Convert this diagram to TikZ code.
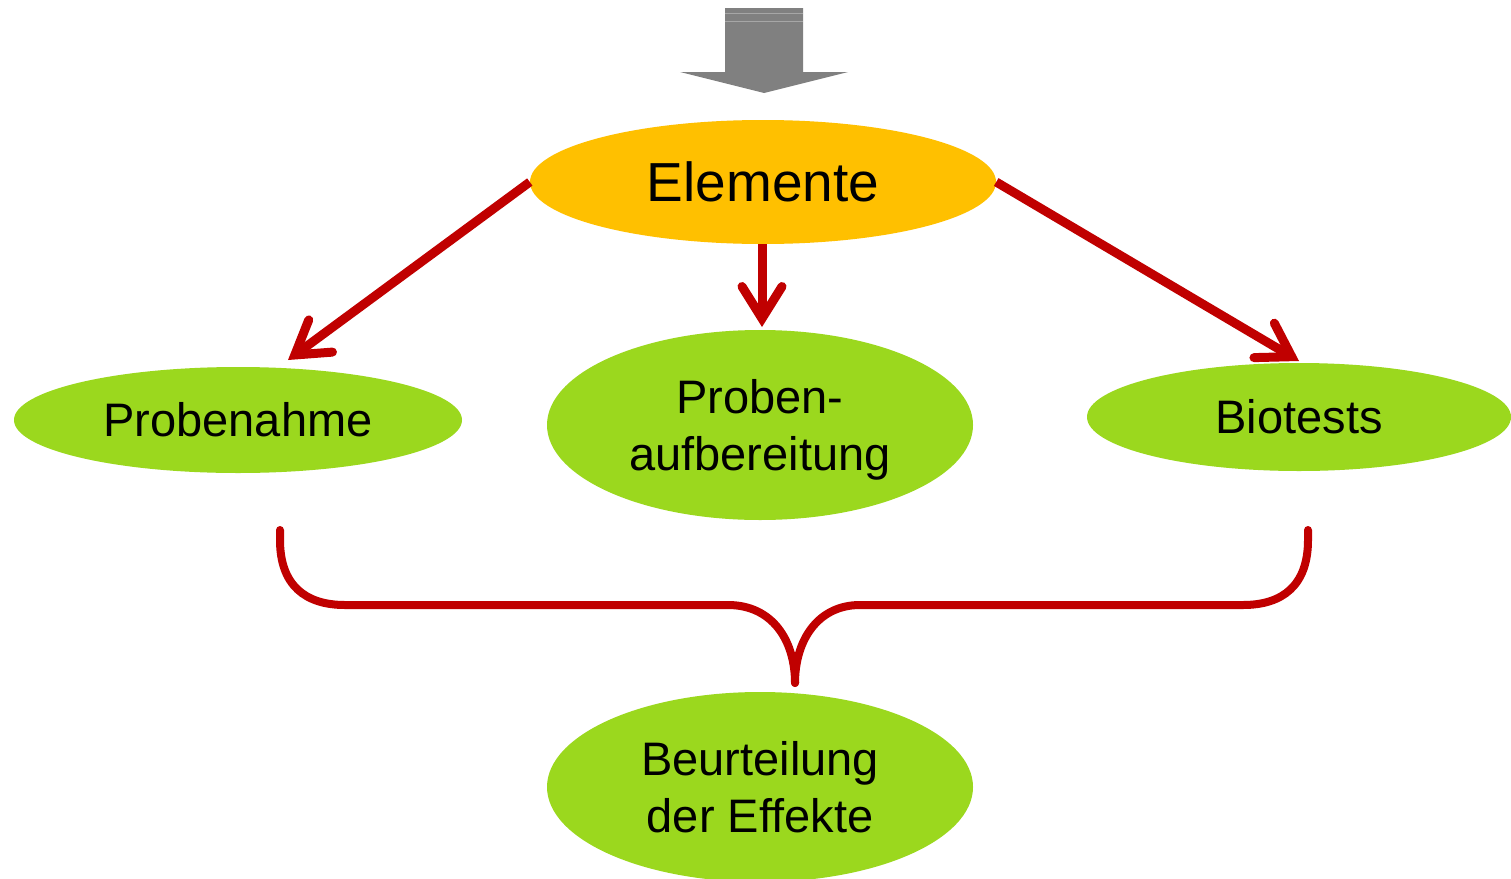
\documentclass[tikz,border=0pt]{standalone}
\usepackage{fontspec}
\setmainfont{Liberation Sans}
\usetikzlibrary{shapes.geometric,arrows.meta}
\definecolor{elorange}{RGB}{255,192,0}
\definecolor{lgreen}{RGB}{155,216,30}
\definecolor{dred}{RGB}{192,0,0}
\definecolor{agray}{RGB}{128,128,128}
\begin{document}
\begin{tikzpicture}[x=1pt,y=-1pt,
  oval/.style={ellipse, fill=lgreen, draw=none, inner sep=0pt, align=center,
    font=\fontsize{47}{57}\selectfont},
  redarrow/.style={draw=dred, line width=9pt,
    -{Straight Barb[length=32pt,width=40pt,line cap=round]}},
  bracestyle/.style={draw=dred, line width=8pt, line cap=round}]
\useasboundingbox[fill=white] (0,0) rectangle (1511,878);
% top gray arrow
\fill[agray] (725,8) -- (803,8) -- (803,72) -- (848,72) -- (764,93) -- (680,72) -- (725,72) -- cycle;
\draw[gray!70!white, line width=0.6pt] (725,13) -- (803,13) (725,21) -- (803,21);
% nodes
\node[oval, fill=elorange, minimum width=466pt, minimum height=124pt,
  font=\fontsize{55}{66}\selectfont] (el) at (763,182) {Elemente};
\node[oval, minimum width=448pt, minimum height=106pt] (pn) at (238,420) {Probenahme};
\node[oval, minimum width=426pt, minimum height=190pt, text depth=0pt] (ap) at (760,425) {Proben-\\aufbereitung};
\node[oval, minimum width=424pt, minimum height=108pt] (bt) at (1299,417) {Biotests};
\node[oval, minimum width=426pt, minimum height=190pt] (be) at (760,787) {Beurteilung\\der Effekte};
% arrow tips
\coordinate (pnTip) at (288,360);
\coordinate (apTip) at (762,327);
\coordinate (btTip) at (1299,361);
\draw[redarrow] (el.west) -- (pnTip);
\draw[redarrow] (762,244) -- (apTip);
\draw[redarrow] (el.east) -- (btTip);
% brace
\coordinate (bl) at (280,530);
\coordinate (br) at (1308,530);
\coordinate (bm) at (795,683);
\draw[bracestyle] (bl) -- (280,540) .. controls (280,585) and (305,605) .. (345,605)
  -- (728,605) .. controls (772,605) and (795,640) .. (bm);
\draw[bracestyle] (br) -- (1308,540) .. controls (1308,585) and (1283,605) .. (1243,605)
  -- (860,605) .. controls (818,605) and (795,640) .. (bm);
\end{tikzpicture}
\end{document}
